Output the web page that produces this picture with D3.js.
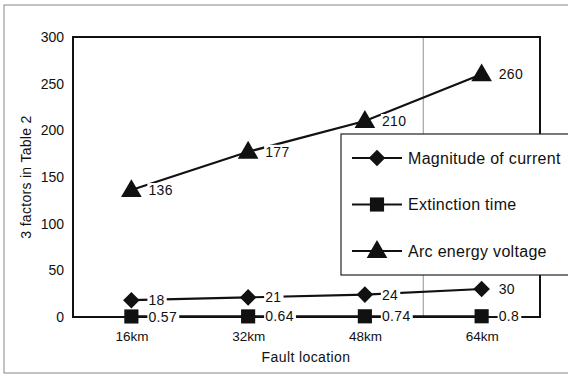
<!DOCTYPE html>
<html>
<head>
<meta charset="utf-8">
<script src="https://cdn.jsdelivr.net/npm/d3@7"></script>
<style>
  body { margin: 0; background: #fff; }
  text { font-family: "Liberation Sans", Arial, sans-serif; fill: #111; }
</style>
</head>
<body>
<script>
const locations = ['16km', '32km', '48km', '64km'];
const current = [18, 21, 24, 30];
const extinction = [0.57, 0.64, 0.74, 0.8];
const arcVoltage = [136, 177, 210, 260];
const yTicks = [0, 50, 100, 150, 200, 250, 300];
const seriesNames = ['Magnitude of current', 'Extinction time', 'Arc energy voltage'];
const seriesShapes = ['diamond', 'square', 'triangle'];

const width = 568;
const height = 374;
const margin = {top: 37, right: 28, bottom: 57, left: 73};

const svg = d3.select('body')
  .append('svg')
  .attr('width', width)
  .attr('height', height);

// scanned page frame
svg.append('rect')
  .attr('x', 4).attr('y', 5)
  .attr('width', 620).attr('height', 368)
  .attr('fill', 'none')
  .attr('stroke', '#888')
  .attr('stroke-width', 1);

const xScale = d3.scalePoint()
  .domain(locations)
  .range([margin.left, width - margin.right])
  .padding(0.5);

const yScale = d3.scaleLinear()
  .domain([0, 300])
  .range([height - margin.bottom, margin.top]);

// faint boundary line between 48km and 64km
const step = xScale.step();
svg.append('line')
  .attr('x1', xScale('64km') - step / 2).attr('x2', xScale('64km') - step / 2)
  .attr('y1', yScale(300)).attr('y2', yScale(0))
  .attr('stroke', '#777').attr('stroke-width', 0.8);

// plot border
svg.append('rect')
  .attr('x', margin.left).attr('y', margin.top)
  .attr('width', width - margin.left - margin.right)
  .attr('height', height - margin.top - margin.bottom)
  .attr('fill', 'none')
  .attr('stroke', '#111')
  .attr('stroke-width', 2);

const yAxis = d3.axisLeft(yScale).tickValues(yTicks).tickSize(0).tickPadding(9);
svg.append('g')
  .attr('transform', 'translate(' + margin.left + ',0)')
  .call(yAxis)
  .call(g => g.select('.domain').remove())
  .selectAll('text')
  .style('font-size', '14px');

const xAxis = d3.axisBottom(xScale).tickSize(0).tickPadding(14);
svg.append('g')
  .attr('transform', 'translate(0,' + (height - margin.bottom) + ')')
  .call(xAxis)
  .call(g => g.select('.domain').remove())
  .selectAll('text')
  .style('font-size', '13.5px');

svg.append('text')
  .attr('transform', 'translate(26,' + ((margin.top + height - margin.bottom) / 2) + ') rotate(-90)')
  .attr('text-anchor', 'middle')
  .attr('dy', '0.35em')
  .style('font-size', '14px')
  .style('letter-spacing', '0.3px')
  .text('3 factors in Table 2');

svg.append('text')
  .attr('x', 306).attr('y', 357)
  .attr('text-anchor', 'middle')
  .attr('dy', '0.35em')
  .style('font-size', '14px')
  .style('letter-spacing', '0.4px')
  .text('Fault location');

const symbolFor = {
  diamond: d3.symbol().type(d3.symbolDiamond2).size(175),
  square: d3.symbol().type(d3.symbolSquare).size(200),
  triangle: d3.symbol().type(d3.symbolTriangle).size(185)
};

const line = d3.line()
  .x((d, i) => xScale(locations[i]))
  .y(d => yScale(d));

const allSeries = [current, extinction, arcVoltage];

allSeries.forEach((vals, s) => {
  const g = svg.append('g');
  g.append('path')
    .datum(vals)
    .attr('d', line)
    .attr('fill', 'none')
    .attr('stroke', '#111')
    .attr('stroke-width', 2.2);

  // labels with white background cut the line
  const labels = g.selectAll('g.lab')
    .data(vals)
    .enter()
    .append('g')
    .attr('class', 'lab')
    .attr('transform', (d, i) => 'translate(' + (xScale(locations[i]) + 17) + ',' + yScale(d) + ')');
  labels.append('rect')
    .attr('x', -1).attr('y', -7)
    .attr('height', 14)
    .attr('fill', '#fff');
  labels.append('text')
    .attr('dy', '0.36em')
    .style('font-size', '14px')
    .style('letter-spacing', '0.4px')
    .text(d => d);
  labels.each(function() {
    const w = d3.select(this).select('text').node().getComputedTextLength();
    d3.select(this).select('rect').attr('width', w + 3);
  });

  g.selectAll('path.mark')
    .data(vals)
    .enter()
    .append('path')
    .attr('class', 'mark')
    .attr('d', symbolFor[seriesShapes[s]])
    .attr('transform', (d, i) => 'translate(' + xScale(locations[i]) + ',' + (yScale(d) + (seriesShapes[s] === 'triangle' ? 1 : 0)) + ')')
    .attr('fill', '#111');
});

// legend
const legend = svg.append('g').attr('transform', 'translate(341,134)');
legend.append('rect')
  .attr('width', 240).attr('height', 141)
  .attr('fill', '#fff')
  .attr('stroke', '#222')
  .attr('stroke-width', 1.2);

const legendRow = d3.scaleLinear().domain([0, 2]).range([24, 117]);
seriesNames.forEach((name, i) => {
  const row = legend.append('g').attr('transform', 'translate(0,' + legendRow(i) + ')');
  row.append('line')
    .attr('x1', 11).attr('x2', 61)
    .attr('stroke', '#111').attr('stroke-width', 2);
  row.append('path')
    .attr('d', symbolFor[seriesShapes[i]])
    .attr('transform', 'translate(36,' + (seriesShapes[i] === 'triangle' ? 1 : 0) + ')')
    .attr('fill', '#111');
  row.append('text')
    .attr('x', 67)
    .attr('dy', '0.36em')
    .style('font-size', '16px')
    .style('letter-spacing', '0.3px')
    .text(name);
});
</script>
</body>
</html>
